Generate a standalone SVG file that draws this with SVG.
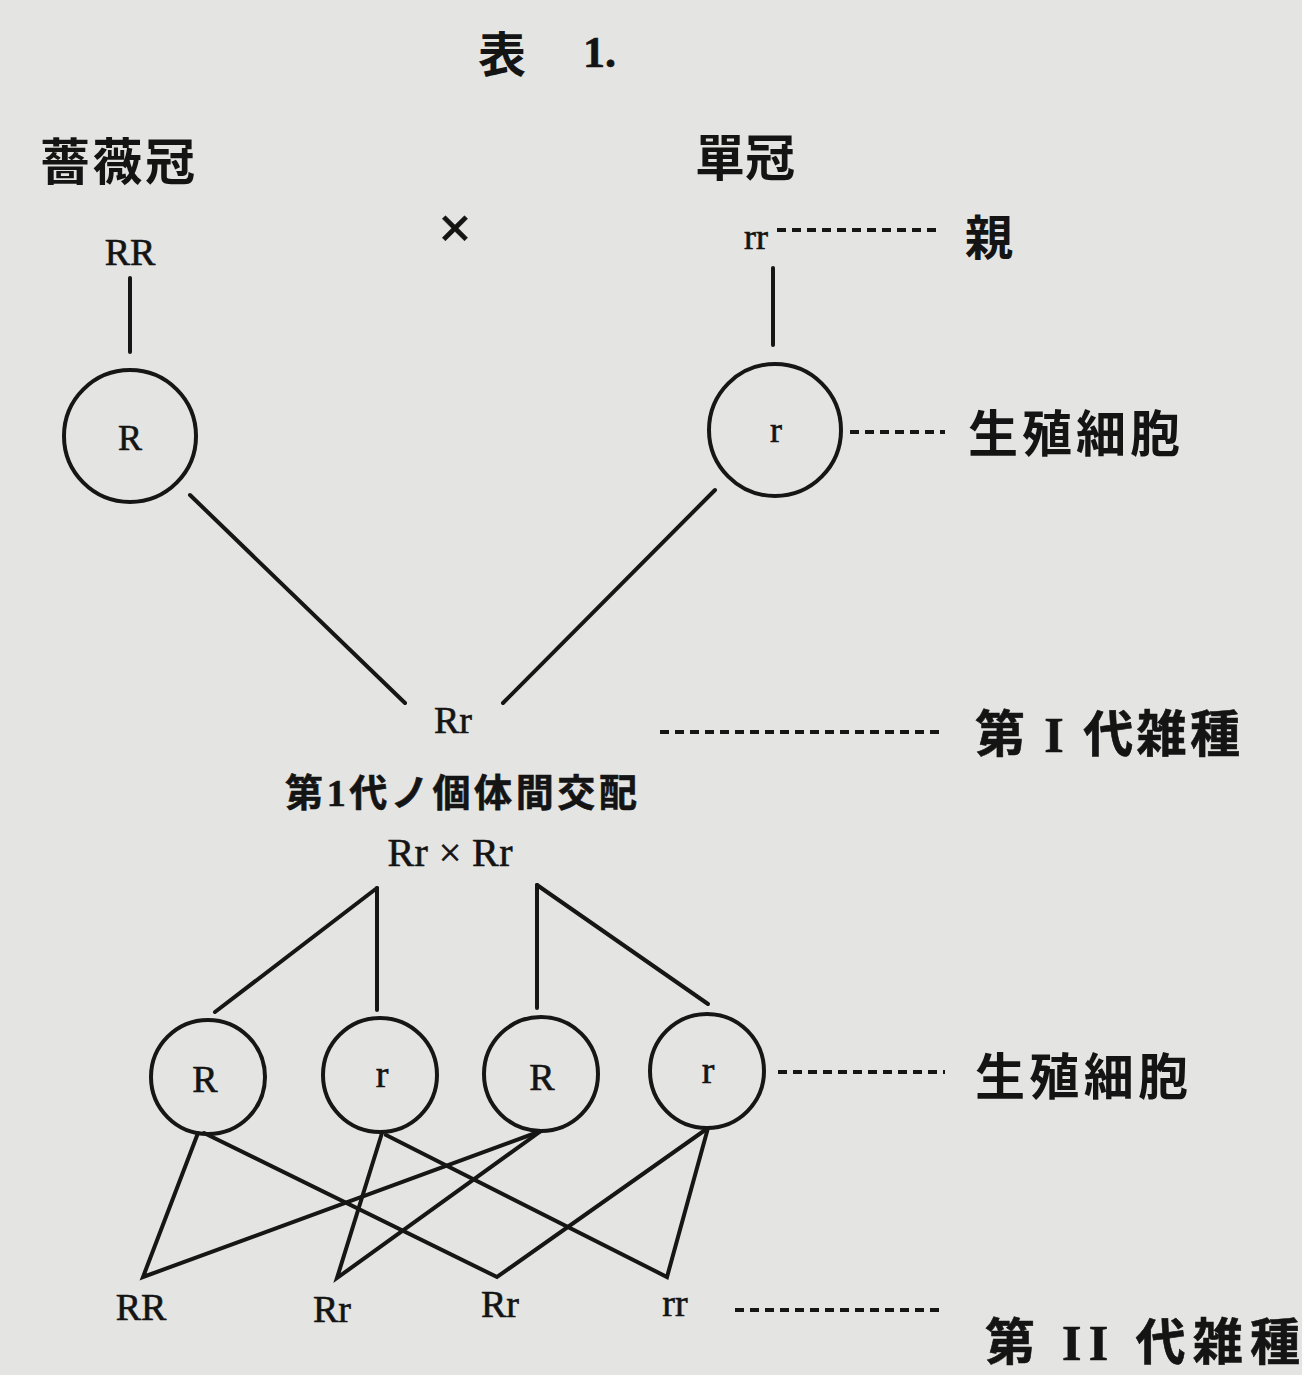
<svg xmlns="http://www.w3.org/2000/svg" width="1302" height="1375" viewBox="0 0 1302 1375">
<style>
.bg{fill:#e4e4e2}
.ln{stroke:#161616;stroke-width:4;fill:none;stroke-linecap:round}
.ds{stroke:#161616;stroke-width:4;fill:none;stroke-dasharray:9 6}
.cir{stroke:#161616;stroke-width:4;fill:none}
.t{font-family:"Liberation Serif","Noto Sans CJK JP",serif;fill:#141414;stroke:#141414;stroke-width:0.6}
.j{font-family:"Noto Sans CJK JP","Noto Sans CJK SC",sans-serif;font-weight:bold;fill:#141414}
.m{text-anchor:middle}
</style>
<rect class="bg" x="0" y="0" width="1302" height="1375"/>
<g id="title">
<text class="j" x="478" y="72" font-size="48">表</text>
<text class="t" x="583" y="67" font-size="44" font-weight="bold">1.</text>
</g>
<g id="label-rose"><text class="j" x="40" y="180" font-size="50" textLength="155">薔薇冠</text></g>
<g id="label-single"><text class="j" x="695" y="176" font-size="50" textLength="100">單冠</text></g>
<g id="cross"><text class="t m" x="455" y="248" font-size="60" font-weight="bold">×</text></g>
<g id="parent-RR"><text class="t m" x="130" y="265" font-size="38">RR</text></g>
<g id="parent-rr"><text class="t" x="744" y="249" font-size="36">rr</text></g>
<g id="label-parent"><text class="j" x="965" y="255" font-size="48">親</text></g>
<g id="gamete-R"><circle class="cir" cx="130" cy="436" r="66"/><text class="t m" x="130" y="450" font-size="36">R</text></g>
<g id="gamete-r"><circle class="cir" cx="775" cy="430" r="66"/><text class="t m" x="776" y="442" font-size="36">r</text></g>
<g id="label-gamete1"><text class="j" x="968" y="452" font-size="50" textLength="212">生殖細胞</text></g>
<g id="f1-Rr"><text class="t m" x="453" y="733" font-size="38">Rr</text></g>
<g id="label-f1"><text class="t" x="975" y="752" font-size="50" font-weight="bold" textLength="265">第 I 代雑種</text></g>
<g id="label-intercross"><text class="t" x="285" y="806" font-size="38" font-weight="bold" textLength="352">第1代ノ個体間交配</text></g>
<g id="cross-f1"><text class="t m" x="450" y="866" font-size="40" textLength="125">Rr × Rr</text></g>
<g id="g2-R1"><circle class="cir" cx="208" cy="1077" r="57"/><text class="t m" x="205" y="1092" font-size="38">R</text></g>
<g id="g2-r1"><circle class="cir" cx="380" cy="1075" r="57"/><text class="t m" x="382" y="1087" font-size="38">r</text></g>
<g id="g2-R2"><circle class="cir" cx="541" cy="1074" r="57"/><text class="t m" x="542" y="1090" font-size="38">R</text></g>
<g id="g2-r2"><circle class="cir" cx="707" cy="1071" r="57"/><text class="t m" x="708" y="1083" font-size="38">r</text></g>
<g id="label-gamete2"><text class="j" x="975" y="1095" font-size="50" textLength="213">生殖細胞</text></g>
<g id="f2-RR"><text class="t m" x="141" y="1320" font-size="38">RR</text></g>
<g id="f2-Rr1"><text class="t m" x="332" y="1322" font-size="38">Rr</text></g>
<g id="f2-Rr2"><text class="t m" x="500" y="1317" font-size="38">Rr</text></g>
<g id="f2-rr"><text class="t m" x="675" y="1316" font-size="38">rr</text></g>
<g id="label-f2"><text class="t" x="985" y="1360" font-size="50" font-weight="bold" textLength="315">第 II 代雑種</text></g>
<g id="connectors">
<line class="ln" x1="130" y1="278" x2="130" y2="352"/>
<line class="ln" x1="773" y1="268" x2="773" y2="345"/>
<line class="ds" x1="777" y1="230" x2="942" y2="230"/>
<line class="ds" x1="850" y1="432" x2="945" y2="432"/>
<line class="ln" x1="190" y1="495" x2="405" y2="703"/>
<line class="ln" x1="715" y1="490" x2="503" y2="703"/>
<line class="ds" x1="660" y1="732" x2="945" y2="732"/>
<line class="ln" x1="377" y1="888" x2="215" y2="1012"/>
<line class="ln" x1="377" y1="888" x2="377" y2="1010"/>
<line class="ln" x1="537" y1="885" x2="537" y2="1008"/>
<line class="ln" x1="537" y1="885" x2="708" y2="1004"/>
<line class="ds" x1="778" y1="1072" x2="945" y2="1072"/>
<polyline class="ln" points="198,1133 143,1277 541,1131"/>
<polyline class="ln" points="382,1133 337,1278 541,1131"/>
<polyline class="ln" points="204,1133 497,1277 708,1128"/>
<polyline class="ln" points="386,1135 667,1277 708,1128"/>
<line class="ds" x1="735" y1="1310" x2="940" y2="1310"/>
</g>
</svg>
